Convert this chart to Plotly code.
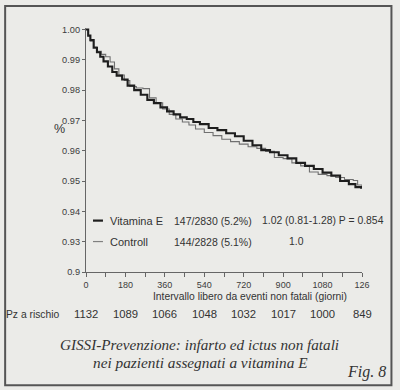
import plotly.graph_objects as go

# ---- data ----
vit_days = [0, 10, 20, 35, 50, 65, 80, 100, 120, 140, 165, 190, 220, 250, 280, 310, 340, 370, 400,
            430, 460, 490, 520, 560, 600, 640, 680, 720, 760, 800, 840, 880, 920, 960, 1000, 1040,
            1080, 1120, 1160, 1200, 1230, 1256]
vit_surv = [1.000, 0.998, 0.9965, 0.994, 0.9925, 0.991, 0.9895, 0.9878, 0.986, 0.9848, 0.9835,
            0.9815, 0.980, 0.9785, 0.9768, 0.9757, 0.9743, 0.9730, 0.9720, 0.9710, 0.9705, 0.9695,
            0.9688, 0.9675, 0.9668, 0.9658, 0.9648, 0.9633, 0.9618, 0.9602, 0.9595, 0.9585, 0.9575,
            0.956, 0.955, 0.954, 0.9528, 0.9518, 0.950, 0.949, 0.948, 0.9475]

ctl_days = [0, 10, 20, 35, 50, 70, 90, 110, 130, 150, 175, 200, 230, 260, 290, 320, 350, 380, 410,
            440, 470, 500, 540, 580, 620, 660, 700, 740, 780, 820, 860, 900, 940, 980, 1020, 1060,
            1100, 1140, 1180, 1220, 1240, 1260]
ctl_surv = [1.000, 0.998, 0.9962, 0.9942, 0.9928, 0.9918, 0.991, 0.9893, 0.987, 0.985, 0.9832,
            0.9812, 0.9807, 0.9805, 0.9775, 0.9758, 0.9738, 0.972, 0.9705, 0.9695, 0.9685, 0.9672,
            0.966, 0.965, 0.9638, 0.963, 0.9622, 0.9613, 0.9608, 0.9598, 0.9578, 0.9574, 0.956,
            0.955, 0.953, 0.9522, 0.9518, 0.9512, 0.9505, 0.9502, 0.9487, 0.948]

x_tickvals = [0, 180, 360, 540, 720, 900, 1080, 1260]
x_ticktext = ["0", "180", "360", "540", "720", "900", "1080", "126"]
y_tickvals = [0.92, 0.93, 0.94, 0.95, 0.96, 0.97, 0.98, 0.99, 1.00]
y_ticktext = ["0.9", "0.93", "0.94", "0.95", "0.96", "0.97", "0.98", "0.99", "1.00"]
at_risk = [1132, 1089, 1066, 1048, 1032, 1017, 1000, 849]

legend_rows = [
    ("Vitamina E", "147/2830 (5.2%)", "1.02 (0.81-1.28) P = 0.854"),
    ("Controll", "144/2828 (5.1%)", "1.0"),
]

# ---- layout geometry (pixels) ----
W, H = 400, 390
L, R, T, B = 86, 362.5, 28, 272.5
pw, ph = R - L, B - T


def px(xp):
    return (xp - L) / pw


def py(yp):
    return (B - yp) / ph


TXT = "#333333"
SANS = "Liberation Sans, Arial, sans-serif"
SERIF = "Liberation Serif, Times New Roman, serif"

fig = go.Figure()
fig.add_trace(go.Scatter(x=ctl_days, y=ctl_surv, mode="lines", line_shape="hv",
                         line=dict(color="#707070", width=1.1), showlegend=False))
fig.add_trace(go.Scatter(x=vit_days, y=vit_surv, mode="lines", line_shape="hv",
                         line=dict(color="#1e1e1e", width=2.1), showlegend=False))

bg = "#ebebe8"
fig.update_layout(
    width=W, height=H, paper_bgcolor=bg, plot_bgcolor=bg,
    margin=dict(l=L, r=W - R, t=T, b=H - B, pad=0),
    font=dict(family=SANS, color=TXT, size=10),
    xaxis=dict(range=[0, 1260], tickvals=x_tickvals, ticktext=x_ticktext,
               showgrid=False, zeroline=False, showline=True, linecolor="#666", linewidth=1.3,
               ticks="outside", ticklen=4, tickcolor="#666", tickwidth=1,
               minor=dict(dtick=90, tick0=0, ticks="outside", ticklen=4, tickcolor="#666"),
               tickfont=dict(size=9, color="#3c3c3c")),
    yaxis=dict(range=[0.92, 1.0005], tickvals=y_tickvals, ticktext=y_ticktext,
               showgrid=False, zeroline=False, showline=True, linecolor="#666", linewidth=1.3,
               ticks="outside", ticklen=3, tickcolor="#666", tickwidth=1,
               tickfont=dict(size=9.2, color="#3c3c3c")),
)

ann = []
# y "%" label
ann.append(dict(x=px(53), y=py(129), text="%", font=dict(size=12.5, color=TXT),
                borderpad=0))
# x axis title
ann.append(dict(x=px(250), y=py(297.5), text="Intervallo libero da eventi non fatali (giorni)",
                font=dict(size=10.3, color=TXT)))
# legend rows
for i, (name, ev, hr) in enumerate(legend_rows):
    yy = [221, 242][i]
    ann.append(dict(x=px(108), y=py(yy), text=name, xanchor="left", font=dict(size=11, color=TXT)))
    ann.append(dict(x=px(172), y=py(yy), text=ev, xanchor="left", font=dict(size=10.5, color=TXT)))
    ann.append(dict(x=px([260, 287][i]), y=py(yy), text=hr, xanchor="left",
                    font=dict(size=10.4, color=TXT)))
# at risk row
ann.append(dict(x=px(4), y=py(315), text="Pz a rischio", xanchor="left",
                font=dict(size=10.3, color=TXT)))
for d, n in zip(x_tickvals, at_risk):
    ann.append(dict(x=d, xref="x", y=py(315), text=str(n), font=dict(size=11.3, color=TXT)))
# caption
ann.append(dict(x=px(200), y=py(345), text="<i>GISSI-Prevenzione: infarto ed ictus non fatali</i>",
                font=dict(family=SERIF, size=15.2, color=TXT)))
ann.append(dict(x=px(201), y=py(363), text="<i>nei pazienti assegnati a vitamina E</i>",
                font=dict(family=SERIF, size=15.3, color=TXT)))
ann.append(dict(x=px(389), y=py(373), text="<i>Fig. 8</i>", xanchor="right",
                font=dict(family=SERIF, size=16, color=TXT)))

for a in ann:
    a.setdefault("xref", "paper")
    a.setdefault("yref", "paper")
    a.setdefault("showarrow", False)
    a.setdefault("yanchor", "middle")
fig.update_layout(annotations=ann)

shapes = [
    dict(type="rect", xref="paper", yref="paper", x0=px(5), x1=px(392), y0=py(386), y1=py(6),
         line=dict(color="#555", width=2)),
    dict(type="line", xref="paper", yref="paper", x0=px(93), x1=px(103), y0=py(221), y1=py(221),
         line=dict(color="#1e1e1e", width=2.2)),
    dict(type="line", xref="paper", yref="paper", x0=px(93), x1=px(103), y0=py(242), y1=py(242),
         line=dict(color="#808080", width=1.2)),
]
fig.update_layout(shapes=shapes)

fig.write_html("out.html", config={"displayModeBar": False},
               post_script="document.body.style.margin='0';document.body.style.overflow='hidden';")
